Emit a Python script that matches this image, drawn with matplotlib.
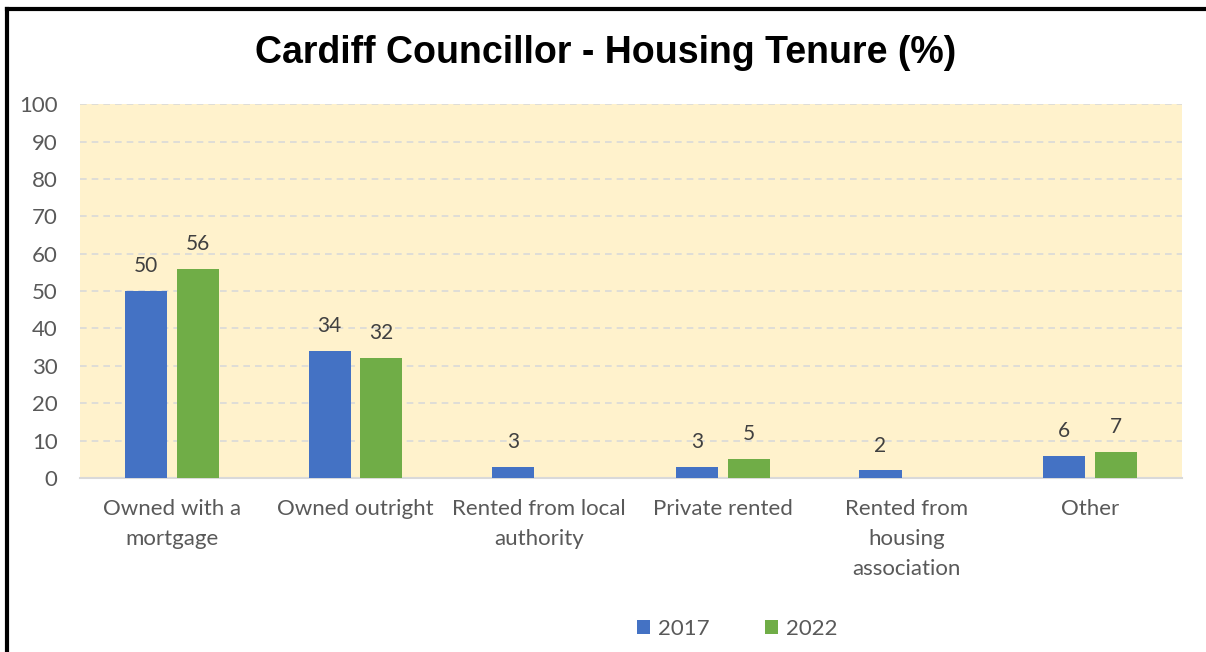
import numpy as np
import matplotlib.pyplot as plt
from matplotlib.lines import Line2D

categories = ["Owned with a\nmortgage", "Owned outright", "Rented from local\nauthority",
              "Private rented", "Rented from\nhousing\nassociation", "Other"]
years = ["2017", "2022"]
vals_2017 = [50, 34, 3, 3, 2, 6]
vals_2022 = [56, 32, None, 5, None, 7]
colors = ["#4472C4", "#70AD47"]

plt.rcParams['font.family'] = ['Lato', 'DejaVu Sans']

fig = plt.figure(figsize=(12.06, 6.52), dpi=100)
ax = fig.add_axes([0.0663, 0.267, 0.9137, 0.573])
ax.set_facecolor("#FFF2CC")

x = np.arange(len(categories))
w = 0.229
off = 0.141
for i, (vals, yr) in enumerate(zip([vals_2017, vals_2022], years)):
    pos = x + (-off if i == 0 else off)
    v = np.array([np.nan if a is None else a for a in vals], dtype=float)
    ax.bar(pos, np.nan_to_num(v), width=w, color=colors[i], label=yr, zorder=3)
    for p, a in zip(pos, vals):
        if a is not None:
            ax.text(p, a + 4, str(a), ha="center", va="bottom", fontsize=15, color="#404040")

ax.set_xlim(-0.5, len(categories) - 0.5)
ax.set_ylim(0, 100)
ax.set_yticks(range(0, 101, 10))
ax.yaxis.grid(True, color="#D9D9D9", linestyle=(0, (4, 3)), linewidth=1.2, zorder=0)
for s in ["top", "right", "left"]:
    ax.spines[s].set_visible(False)
ax.spines["bottom"].set_color("#D9D9D9")
ax.spines["bottom"].set_linewidth(1.5)
ax.tick_params(axis="both", length=0, labelsize=16, labelcolor="#595959")
ax.tick_params(axis="y", pad=16)
ax.tick_params(axis="x", pad=15)
ax.set_xticks(x)
ax.set_xticklabels(categories, linespacing=1.62)

fig.text(0.502, 0.918, "Cardiff Councillor - Housing Tenure (%)", ha="center", va="center",
         fontsize=27, fontweight="bold", family="Liberation Sans")

ax.legend(loc="center", bbox_to_anchor=(0.5965, -0.404), ncol=2, frameon=False, fontsize=16,
          labelcolor="#595959", handlelength=0.6, handleheight=0.6, columnspacing=2.5,
          handletextpad=0.35)

# frame lines (chart border, cropped on right and bottom)
fig.add_artist(Line2D([0.0062, 1.0], [0.9865, 0.9865], color="black", linewidth=3,
                      transform=fig.transFigure))
fig.add_artist(Line2D([0.0062, 0.0062], [0.0, 0.9865], color="black", linewidth=3,
                      transform=fig.transFigure))

fig.savefig("out.png", dpi=100)
